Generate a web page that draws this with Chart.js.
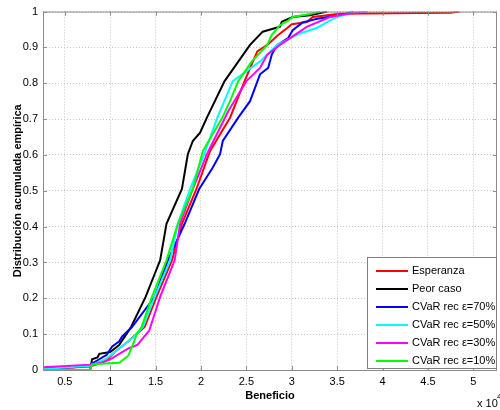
<!DOCTYPE html>
<html>
<head>
<meta charset="utf-8">
<script src="https://cdn.jsdelivr.net/npm/chart.js@4/dist/chart.umd.min.js"></script>
<style>
  html, body { margin: 0; padding: 0; background: #fff; }
  #wrap { width: 500px; height: 410px; }
</style>
</head>
<body>
<div id="wrap"><canvas id="cdfChart" width="500" height="410"></canvas></div>
<script>
// Series labels and colours
const seriesLabels = ['Esperanza', 'Peor caso', 'CVaR rec \u03b5=70%', 'CVaR rec \u03b5=50%', 'CVaR rec \u03b5=30%', 'CVaR rec \u03b5=10%'];
const seriesColors = ['#ff0000', '#000000', '#0000ff', '#00ffff', '#ff00ff', '#00ff00'];

// Beneficio (x 10^4), one array per series
const esperanzaX = [0.26, 0.78, 0.95, 1.05, 1.2, 1.38, 1.51, 1.68, 1.79, 1.95, 2.1, 2.32, 2.48, 2.62, 2.73, 2.85, 2.95, 3.0, 3.17, 3.23, 3.53, 4.4, 4.75, 4.85];
const esperanzaY = [0.003, 0.01, 0.025, 0.05, 0.08, 0.12, 0.204, 0.306, 0.408, 0.505, 0.611, 0.704, 0.806, 0.889, 0.907, 0.935, 0.954, 0.965, 0.971, 0.985, 0.994, 0.996, 0.997, 1.0];

const peorX = [0.78, 0.8, 0.86, 0.88, 1.0, 1.1, 1.16, 1.23, 1.39, 1.55, 1.62, 1.79, 1.855, 1.91, 1.99, 2.065, 2.26, 2.54, 2.68, 2.87, 2.89, 3.01, 3.2, 3.39];
const peorY = [0.0, 0.03, 0.035, 0.045, 0.05, 0.07, 0.093, 0.12, 0.204, 0.306, 0.408, 0.505, 0.602, 0.639, 0.662, 0.704, 0.806, 0.907, 0.944, 0.958, 0.972, 0.985, 0.99, 1.0];

const cvar70X = [0.26, 0.6, 0.78, 0.88, 0.96, 1.02, 1.1, 1.13, 1.24, 1.49, 1.635, 1.82, 1.98, 2.13, 2.21, 2.24, 2.41, 2.54, 2.65, 2.74, 2.78, 2.84, 2.96, 3.01, 3.12, 3.28, 3.53, 3.68];
const cvar70Y = [0.005, 0.008, 0.015, 0.03, 0.042, 0.065, 0.08, 0.093, 0.12, 0.204, 0.306, 0.408, 0.505, 0.565, 0.602, 0.639, 0.704, 0.75, 0.825, 0.843, 0.88, 0.907, 0.926, 0.948, 0.97, 0.98, 0.99, 1.0];

const cvar50X = [0.26, 0.78, 0.95, 1.1, 1.25, 1.36, 1.49, 1.66, 1.745, 1.88, 2.04, 2.18, 2.35, 2.65, 2.84, 3.09, 3.28, 3.42, 3.5, 3.61, 3.75];
const cvar50Y = [0.003, 0.012, 0.03, 0.06, 0.09, 0.12, 0.204, 0.306, 0.408, 0.505, 0.605, 0.704, 0.806, 0.861, 0.907, 0.939, 0.955, 0.975, 0.985, 0.993, 1.0];

const cvar30X = [0.26, 0.78, 0.9, 1.0, 1.2, 1.3, 1.43, 1.55, 1.71, 1.77, 1.91, 2.065, 2.3, 2.5, 2.65, 2.73, 2.87, 2.98, 3.17, 3.42, 3.6, 3.83];
const cvar30Y = [0.008, 0.015, 0.02, 0.03, 0.06, 0.07, 0.11, 0.204, 0.306, 0.408, 0.505, 0.602, 0.722, 0.806, 0.843, 0.88, 0.907, 0.926, 0.958, 0.985, 0.993, 1.0];

const cvar10X = [0.26, 0.78, 0.8, 1.1, 1.2, 1.27, 1.29, 1.345, 1.46, 1.62, 1.745, 1.91, 2.02, 2.235, 2.32, 2.41, 2.56, 2.73, 2.78, 2.87, 2.96, 3.01, 3.2, 3.31];
const cvar10Y = [0.0, 0.0, 0.016, 0.02, 0.04, 0.083, 0.1, 0.12, 0.204, 0.306, 0.408, 0.505, 0.611, 0.704, 0.75, 0.806, 0.861, 0.907, 0.935, 0.962, 0.975, 0.985, 0.993, 1.0];

// Tick labels
const xTicks = [0.5, 1, 1.5, 2, 2.5, 3, 3.5, 4, 4.5, 5];
const yTicks = [0, 0.1, 0.2, 0.3, 0.4, 0.5, 0.6, 0.7, 0.8, 0.9, 1];

const seriesX = [esperanzaX, peorX, cvar70X, cvar50X, cvar30X, cvar10X];
const seriesY = [esperanzaY, peorY, cvar70Y, cvar50Y, cvar30Y, cvar10Y];

// Build the datasets from the arrays above
const datasets = seriesLabels.map((label, i) => ({
    label: label,
    data: seriesX[i].map((x, j) => ({ x: x, y: seriesY[i][j] })),
    borderColor: seriesColors[i],
    backgroundColor: seriesColors[i],
    borderWidth: 2,
    pointRadius: 0,
    tension: 0,
    fill: false,
    order: seriesLabels.length - i // later series on top, like the original
}));

const FONT = 'Liberation Sans, Arial, sans-serif';

// Box, inward ticks, exponent label and legend drawn on top of the chart
const matlabBox = {
    id: 'matlabBox',
    afterDraw(chart) {
        const ctx = chart.ctx;
        const a = chart.chartArea;
        const xs = chart.scales.x;
        const ys = chart.scales.y;
        ctx.save();

        // axes box
        ctx.strokeStyle = '#8c8c8c';
        ctx.lineWidth = 1;
        ctx.strokeRect(a.left + 0.5, a.top + 0.5, a.right - a.left - 1, a.bottom - a.top);

        // small inward tick marks
        ctx.beginPath();
        xTicks.forEach(v => {
            const px = Math.round(xs.getPixelForValue(v)) + 0.5;
            ctx.moveTo(px, a.bottom); ctx.lineTo(px, a.bottom - 4);
            ctx.moveTo(px, a.top); ctx.lineTo(px, a.top + 4);
        });
        yTicks.forEach(v => {
            const py = Math.round(ys.getPixelForValue(v)) + 0.5;
            ctx.moveTo(a.left, py); ctx.lineTo(a.left + 4, py);
            ctx.moveTo(a.right, py); ctx.lineTo(a.right - 4, py);
        });
        ctx.stroke();

        // exponent label
        ctx.fillStyle = '#000';
        ctx.font = '11px ' + FONT;
        ctx.textBaseline = 'alphabetic';
        ctx.textAlign = 'left';
        ctx.fillText('x 10', 477, 407);
        ctx.font = '8px ' + FONT;
        ctx.fillText('4', 497, 399);

        // legend
        const lx = 367, ly = 257, lw = 130, lh = 112;
        ctx.fillStyle = '#fff';
        ctx.fillRect(lx, ly, lw, lh);
        ctx.strokeStyle = '#7f7f7f';
        ctx.strokeRect(lx + 0.5, ly + 0.5, lw - 1, lh - 1);
        ctx.font = '11px ' + FONT;
        ctx.textBaseline = 'middle';
        chart.data.datasets.forEach((ds, i) => {
            const y = ly + 14 + i * 18;
            ctx.strokeStyle = ds.borderColor;
            ctx.lineWidth = 2;
            ctx.beginPath();
            ctx.moveTo(lx + 9, y);
            ctx.lineTo(lx + 41, y);
            ctx.stroke();
            ctx.fillStyle = '#000';
            ctx.fillText(ds.label, lx + 45, y);
        });
        ctx.restore();
    }
};

new Chart(document.getElementById('cdfChart'), {
    type: 'line',
    data: { datasets: datasets },
    options: {
        responsive: false,
        animation: false,
        layout: { padding: { top: 10, right: 3, left: 0, bottom: 0 } },
        plugins: {
            legend: { display: false },
            tooltip: { enabled: false }
        },
        scales: {
            x: {
                type: 'linear',
                min: 0.26,
                max: 5.26,
                afterBuildTicks: axis => { axis.ticks = xTicks.map(v => ({ value: v })); },
                afterFit: scale => { scale.height = 40; },
                grid: { color: '#c4c4c4', drawTicks: false, lineWidth: 1 },
                border: { display: false, dash: [1, 2] },
                ticks: {
                    color: '#000',
                    padding: 5,
                    maxRotation: 0,
                    font: { family: FONT, size: 11 },
                    callback: v => String(v)
                },
                title: {
                    display: true,
                    text: 'Beneficio',
                    color: '#000',
                    padding: { top: 2, bottom: 7 },
                    font: { family: FONT, size: 11, weight: 'bold' }
                }
            },
            y: {
                type: 'linear',
                min: 0,
                max: 1,
                afterBuildTicks: axis => { axis.ticks = yTicks.map(v => ({ value: v })); },
                afterFit: scale => { scale.width = 43; },
                grid: { color: '#c4c4c4', drawTicks: false, lineWidth: 1 },
                border: { display: false, dash: [1, 2] },
                ticks: {
                    color: '#000',
                    padding: 5,
                    font: { family: FONT, size: 11 },
                    callback: v => String(Math.round(v * 10) / 10)
                },
                title: {
                    display: true,
                    text: 'Distribución acumulada empírica',
                    color: '#000',
                    padding: { top: 11, bottom: 0 },
                    font: { family: FONT, size: 11, weight: 'bold' }
                }
            }
        }
    },
    plugins: [matlabBox]
});
</script>
</body>
</html>
